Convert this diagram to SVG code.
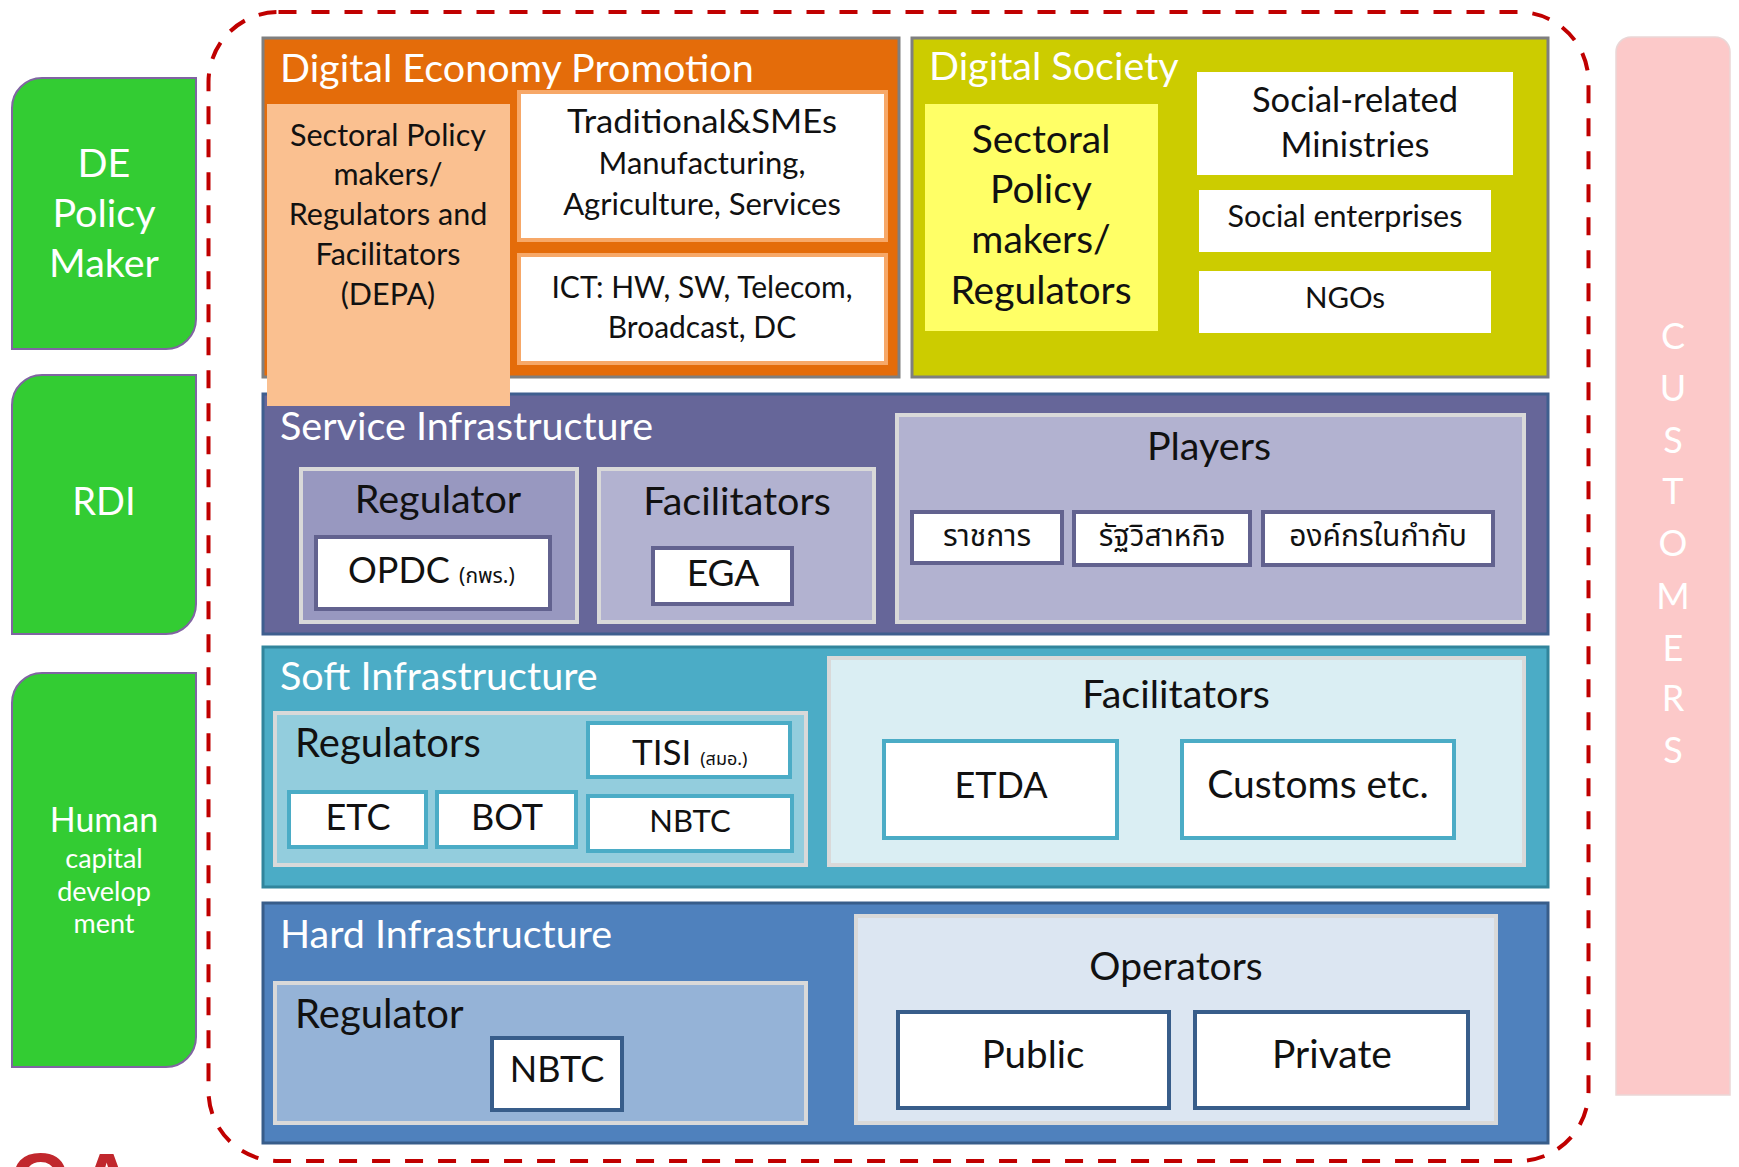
<svg xmlns="http://www.w3.org/2000/svg" width="1739" height="1167" viewBox="0 0 1739 1167">
<style>
text{font-family:Lato,"Open Sans","Noto Sans",sans-serif}
.hdr{fill:#fff;font-size:39.5px}
.t{fill:#111}
.c{text-anchor:middle}
.th{font-family:"Noto Sans Thai","Noto Sans","DejaVu Sans",sans-serif}
.grn{fill:#33CC33;stroke:#8064A2;stroke-width:2}
.gtxt{fill:#fff;text-anchor:middle}
.wb{fill:#fff}
.sub{stroke:#D9D9D9;stroke-width:4}
</style>
<rect width="1739" height="1167" fill="#fff"/>

<g id="boundary">
<rect x="208.5" y="12" width="1380" height="1149" rx="70" ry="70" fill="none" stroke="#C00000" stroke-width="4" stroke-dasharray="18 15"/>
</g>

<g id="de-policy-maker">
<path class="grn" d="M12,108 A30,30 0 0 1 42,78 H196 V319 A30,30 0 0 1 166,349 H12 Z"/>
<text class="gtxt" x="104" y="177" font-size="39.5">DE</text>
<text class="gtxt" x="104" y="227" font-size="39.5">Policy</text>
<text class="gtxt" x="104" y="277" font-size="39.5">Maker</text>
</g>

<g id="rdi">
<path class="grn" d="M12,405 A30,30 0 0 1 42,375 H196 V604 A30,30 0 0 1 166,634 H12 Z"/>
<text class="gtxt" x="104" y="515" font-size="38">RDI</text>
</g>

<g id="human-capital">
<path class="grn" d="M12,703 A30,30 0 0 1 42,673 H196 V1037 A30,30 0 0 1 166,1067 H12 Z"/>
<text class="gtxt" x="104" y="832" font-size="34">Human</text>
<text class="gtxt" x="104" y="868" font-size="27">capital</text>
<text class="gtxt" x="104" y="901" font-size="27">develop</text>
<text class="gtxt" x="104" y="933" font-size="27">ment</text>
</g>

<g id="customers">
<path d="M1616,52 A15,15 0 0 1 1631,37 H1715 A15,15 0 0 1 1730,52 V1095 H1616 Z" fill="#FCC9C9" stroke="#EAD6D6" stroke-width="1.5"/>
<g fill="#fff" font-size="36" text-anchor="middle">
<text x="1673" y="349">C</text>
<text x="1673" y="401">U</text>
<text x="1673" y="453">S</text>
<text x="1673" y="504">T</text>
<text x="1673" y="556">O</text>
<text x="1673" y="609">M</text>
<text x="1673" y="661">E</text>
<text x="1673" y="711">R</text>
<text x="1673" y="763">S</text>
</g>
</g>

<g id="digital-economy-promotion">
<rect x="263" y="38" width="636" height="339" fill="#E46C0A" stroke="#7F7F7F" stroke-width="3"/>
<text class="hdr" x="280" y="82">Digital Economy Promotion</text>
</g>

<g id="digital-society">
<rect x="912" y="38" width="636" height="339" fill="#CCCC00" stroke="#7F7F7F" stroke-width="3"/>
<text class="hdr" x="929" y="80">Digital Society</text>
</g>

<g id="service-infrastructure">
<rect x="263" y="394" width="1285" height="240" fill="#666699" stroke="#3F5F8F" stroke-width="3"/>
<text class="hdr" x="280" y="440">Service Infrastructure</text>
</g>

<g id="soft-infrastructure">
<rect x="263" y="647" width="1285" height="240" fill="#4BACC6" stroke="#31859C" stroke-width="3"/>
<text class="hdr" x="280" y="690">Soft Infrastructure</text>
</g>

<g id="hard-infrastructure">
<rect x="263" y="903" width="1285" height="240" fill="#4F81BD" stroke="#385D8A" stroke-width="3"/>
<text class="hdr" x="280" y="948">Hard Infrastructure</text>
</g>

<g id="depa">
<rect x="267" y="104" width="243" height="302" fill="#FAC090"/>
<g class="t c" font-size="30.5">
<text x="388" y="146">Sectoral Policy</text>
<text x="388" y="185">makers/</text>
<text x="388" y="225">Regulators and</text>
<text x="388" y="265">Facilitators</text>
<text x="388" y="305">(DEPA)</text>
</g>
</g>

<g id="traditional-smes">
<rect x="519" y="92" width="367" height="148" class="wb" stroke="#F7A868" stroke-width="4"/>
<g class="t c" font-size="31">
<text x="702" y="133" font-size="32" textLength="270" lengthAdjust="spacingAndGlyphs">Traditional&amp;SMEs</text>
<text x="702" y="174">Manufacturing,</text>
<text x="702" y="215">Agriculture, Services</text>
</g>
</g>

<g id="ict">
<rect x="519" y="255" width="367" height="108" class="wb" stroke="#F7A868" stroke-width="4"/>
<g class="t c" font-size="30">
<text x="702" y="298">ICT: HW, SW, Telecom,</text>
<text x="702" y="338">Broadcast, DC</text>
</g>
</g>

<g id="ds-sectoral">
<rect x="925" y="104" width="233" height="227" fill="#FFFF66"/>
<g class="t c" font-size="39">
<text x="1041" y="153">Sectoral</text>
<text x="1041" y="203">Policy</text>
<text x="1041" y="253">makers/</text>
<text x="1041" y="304">Regulators</text>
</g>
</g>

<g id="social-ministries">
<rect x="1197" y="72" width="316" height="103" class="wb"/>
<text class="t c" x="1355" y="112" font-size="34.5">Social-related</text>
<text class="t c" x="1355" y="157" font-size="34.5">Ministries</text>
</g>

<g id="social-enterprises">
<rect x="1199" y="190" width="292" height="62" class="wb"/>
<text class="t c" x="1345" y="227" font-size="30.5">Social enterprises</text>
</g>

<g id="ngos">
<rect x="1199" y="271" width="292" height="62" class="wb"/>
<text class="t c" x="1345" y="308" font-size="29.5">NGOs</text>
</g>

<g id="si-regulator">
<rect x="301" y="469" width="276" height="153" fill="#9898C0" class="sub"/>
<text class="t c" x="438" y="513" font-size="39.5">Regulator</text>
</g>

<g id="opdc">
<rect x="316" y="537" width="234" height="72" class="wb" stroke="#62628F" stroke-width="4"/>
<text class="t" x="348" y="583" font-size="36">OPDC <tspan class="th" font-size="21">(กพร.)</tspan></text>
</g>

<g id="si-facilitators">
<rect x="599" y="469" width="275" height="153" fill="#B2B2D0" class="sub"/>
<text class="t c" x="737" y="515" font-size="39.5">Facilitators</text>
</g>

<g id="ega">
<rect x="653" y="548" width="139" height="56" class="wb" stroke="#62628F" stroke-width="4"/>
<text class="t c" x="723" y="586" font-size="37">EGA</text>
</g>

<g id="players">
<rect x="897" y="415" width="627" height="207" fill="#B2B2D0" class="sub"/>
<text class="t c" x="1209" y="460" font-size="39.5">Players</text>
</g>

<g id="ratchakan">
<rect x="912" y="512" width="150" height="51" class="wb" stroke="#62628F" stroke-width="4"/>
<text class="t c th" x="987" y="546" font-size="30">ราชการ</text>
</g>

<g id="state-enterprise">
<rect x="1074" y="512" width="176" height="53" class="wb" stroke="#62628F" stroke-width="4"/>
<text class="t c th" x="1162" y="546" font-size="30">รัฐวิสาหกิจ</text>
</g>

<g id="supervised-org">
<rect x="1263" y="512" width="230" height="53" class="wb" stroke="#62628F" stroke-width="4"/>
<text class="t c th" x="1378" y="546" font-size="30">องค์กรในกำกับ</text>
</g>

<g id="soft-regulators">
<rect x="275" y="713" width="531" height="152" fill="#93CDDD" class="sub"/>
<text class="t" x="295" y="757" font-size="40">Regulators</text>
</g>

<g id="tisi">
<rect x="588" y="723" width="202" height="54" class="wb" stroke="#4BACC6" stroke-width="4"/>
<text class="t" x="632" y="765" font-size="35">TISI <tspan class="th" font-size="18">(สมอ.)</tspan></text>
</g>

<g id="etc">
<rect x="289" y="792" width="137" height="55" class="wb" stroke="#4BACC6" stroke-width="4"/>
<text class="t c" x="358" y="830" font-size="36">ETC</text>
</g>

<g id="bot">
<rect x="437" y="792" width="139" height="55" class="wb" stroke="#4BACC6" stroke-width="4"/>
<text class="t c" x="507" y="830" font-size="36">BOT</text>
</g>

<g id="soft-nbtc">
<rect x="588" y="796" width="204" height="55" class="wb" stroke="#4BACC6" stroke-width="4"/>
<text class="t c" x="690" y="832" font-size="31">NBTC</text>
</g>

<g id="soft-facilitators">
<rect x="829" y="658" width="695" height="207" fill="#DAEEF3" class="sub"/>
<text class="t c" x="1176" y="708" font-size="39.5">Facilitators</text>
</g>

<g id="etda">
<rect x="884" y="741" width="233" height="97" class="wb" stroke="#4BACC6" stroke-width="4"/>
<text class="t c" x="1001" y="798" font-size="36">ETDA</text>
</g>

<g id="customs">
<rect x="1182" y="741" width="272" height="97" class="wb" stroke="#4BACC6" stroke-width="4"/>
<text class="t c" x="1318" y="798" font-size="39">Customs etc.</text>
</g>

<g id="hard-regulator">
<rect x="275" y="983" width="531" height="140" fill="#95B3D7" class="sub"/>
<text class="t" x="295" y="1028" font-size="40">Regulator</text>
</g>

<g id="hard-nbtc">
<rect x="492" y="1038" width="130" height="72" class="wb" stroke="#385D8A" stroke-width="4"/>
<text class="t c" x="557" y="1082" font-size="36">NBTC</text>
</g>

<g id="operators">
<rect x="856" y="916" width="640" height="207" fill="#DCE6F2" class="sub"/>
<text class="t c" x="1176" y="980" font-size="39">Operators</text>
</g>

<g id="public">
<rect x="898" y="1012" width="271" height="96" class="wb" stroke="#385D8A" stroke-width="4"/>
<text class="t c" x="1033" y="1068" font-size="38.5">Public</text>
</g>

<g id="private">
<rect x="1195" y="1012" width="273" height="96" class="wb" stroke="#385D8A" stroke-width="4"/>
<text class="t c" x="1332" y="1068" font-size="39">Private</text>
</g>

<g id="logo-fragment">
<text x="10" y="1209" font-size="80" font-weight="bold" fill="#C1272D" style="font-family:'Liberation Sans',sans-serif" letter-spacing="10">CA</text>
</g>

<g id="connectors"></g>
</svg>
